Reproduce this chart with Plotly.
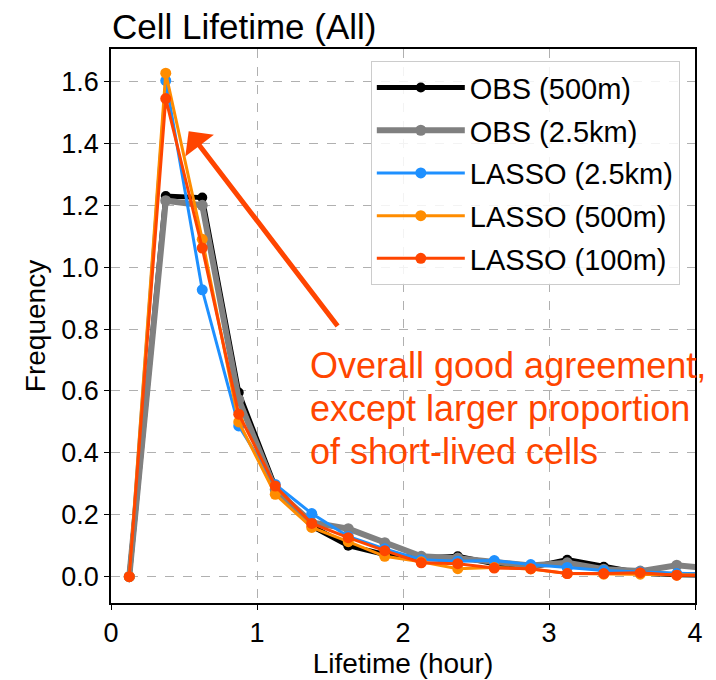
import plotly.graph_objects as go

# bin centres (hour)
lifetime = [0.125, 0.375, 0.625, 0.875, 1.125, 1.375, 1.625, 1.875, 2.125,
            2.375, 2.625, 2.875, 3.125, 3.375, 3.625, 3.875, 4.125]

obs_500m = [0, 1.23, 1.225, 0.595, 0.29, 0.163, 0.10, 0.072, 0.06, 0.066,
            0.042, 0.03, 0.055, 0.032, 0.012, 0.006, 0.005]
obs_2p5km = [0, 1.215, 1.20, 0.572, 0.282, 0.175, 0.155, 0.11, 0.066, 0.06,
             0.05, 0.036, 0.045, 0.024, 0.018, 0.037, 0.025]
lasso_2p5km = [0, 1.603, 0.927, 0.487, 0.298, 0.204, 0.13, 0.09, 0.055, 0.05,
               0.052, 0.039, 0.03, 0.02, 0.015, 0.01, 0.008]
lasso_500m = [0, 1.627, 1.09, 0.50, 0.266, 0.159, 0.113, 0.066, 0.048, 0.026,
              0.03, 0.025, 0.01, 0.008, 0.008, 0.005, 0.005]
lasso_100m = [0, 1.545, 1.062, 0.525, 0.293, 0.172, 0.126, 0.084, 0.045, 0.042,
              0.028, 0.026, 0.01, 0.01, 0.013, 0.005, 0.005]

comment_lines = ["Overall good agreement,", "except larger proportion",
                 "of short-lived cells"]

series = [
    ("OBS (500m)", obs_500m, "black", 5, 10),
    ("OBS (2.5km)", obs_2p5km, "#808080", 6, 11),
    ("LASSO (2.5km)", lasso_2p5km, "#1E90FF", 3, 11),
    ("LASSO (500m)", lasso_500m, "#FF8C00", 3, 11),
    ("LASSO (100m)", lasso_100m, "#FF4500", 3, 11),
]

FONT = "Liberation Sans, Arial, Helvetica, sans-serif"

fig = go.Figure()
for i, (name, vals, color, lw, ms) in enumerate(series):
    fig.add_trace(go.Scatter(
        x=lifetime, y=vals, name=name, mode="lines+markers",
        legendgroup=f"g{i}",
        line=dict(color=color, width=lw),
        marker=dict(color=color, size=ms),
    ))

# arrow
fig.add_annotation(
    x=0.532, y=1.439, ax=1.56, ay=0.805, xref="x", yref="y",
    axref="x", ayref="y", text="", showarrow=True,
    arrowhead=1, arrowsize=1.2, arrowwidth=5, arrowcolor="#FF4500",
)
# comment text, one annotation per line
for line, ypos in zip(comment_lines, [0.683, 0.545, 0.406]):
    fig.add_annotation(
        x=1.347, y=ypos, xref="x", yref="y", xanchor="left", yanchor="middle",
        align="left", showarrow=False, text=line,
        font=dict(family=FONT, size=36, color="#FF4500"),
    )

fig.update_layout(
    width=716, height=680,
    margin=dict(l=111, r=21, t=49, b=77),
    paper_bgcolor="white", plot_bgcolor="white",
    font=dict(family=FONT, color="black"),
    title=dict(text="Cell Lifetime (All)", x=112 / 716, xanchor="left",
               xref="container", y=1 - 27 / 680, yref="container",
               yanchor="middle", font=dict(size=35, color="black")),
    legend=dict(x=0.974, xanchor="right", y=0.978, yanchor="top",
                bgcolor="rgba(255,255,255,0.85)", bordercolor="#cccccc",
                borderwidth=1, font=dict(size=29), itemwidth=88,
                tracegroupgap=2, traceorder="grouped"),
    showlegend=True,
)
fig.update_xaxes(
    range=[0, 4], tickvals=[0, 1, 2, 3, 4], ticktext=["0", "1", "2", "3", "4"],
    showline=True, mirror=True, linecolor="black", linewidth=1.5,
    ticks="outside", ticklen=5, tickcolor="black",
    showgrid=True, gridcolor="#b0b0b0", griddash="dash", gridwidth=1,
    zeroline=False, tickfont=dict(size=27), automargin=False,
    title=dict(text="Lifetime (hour)", font=dict(size=28), standoff=6),
)
fig.update_yaxes(
    range=[-0.085, 1.705], tickvals=[0, 0.2, 0.4, 0.6, 0.8, 1.0, 1.2, 1.4, 1.6],
    tickformat=".1f",
    showline=True, mirror=True, linecolor="black", linewidth=1.5,
    ticks="outside", ticklen=5, tickcolor="black",
    showgrid=True, gridcolor="#b0b0b0", griddash="dash", gridwidth=1,
    zeroline=False, tickfont=dict(size=27), automargin=False,
    title=dict(text="Frequency", font=dict(size=28), standoff=8),
)

fig.write_html("out.html")
